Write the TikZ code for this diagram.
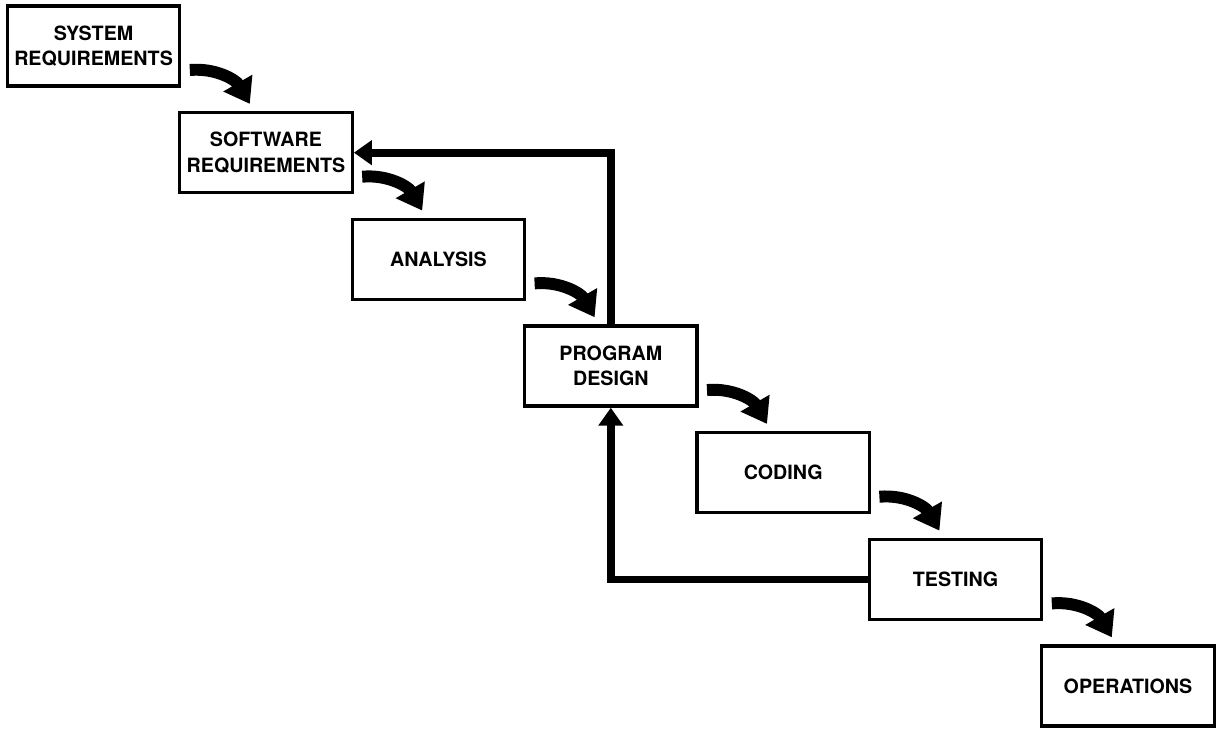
\documentclass[tikz,border=0pt]{standalone}
\usepackage{fontspec}
\setmainfont{TeX Gyre Heros}
\usetikzlibrary{arrows.meta,positioning}

\begin{document}
\begin{tikzpicture}[
    phase/.style={draw, line width=2.4pt, outer sep=0pt, inner xsep=2pt,
        minimum width=4.31cm, minimum height=2cm,
        align=center, font=\bfseries\fontsize{14}{18}\selectfont},
    flow/.style={line width=8.5pt, -{Triangle[length=0.6cm,width=0.8cm]}},
    feedback/.style={line width=5.5pt, -{Triangle[length=0.45cm,width=0.6cm]}}
]
    \useasboundingbox (0,0) rectangle (30.45,-18.2);

    \node[phase] (sys) at (2.34,-1.15) {SYSTEM\\REQUIREMENTS};
    \node[phase, below right=0.667cm and 0cm of sys] (soft) {SOFTWARE\\REQUIREMENTS};
    \node[phase, below right=0.667cm and 0cm of soft] (ana) {ANALYSIS};
    \node[phase, below right=0.667cm and 0cm of ana] (pd) {PROGRAM\\DESIGN};
    \node[phase, below right=0.667cm and 0cm of pd] (cod) {CODING};
    \node[phase, below right=0.667cm and 0cm of cod] (test) {TESTING};
    \node[phase, below right=0.667cm and 0cm of test] (ops) {OPERATIONS};

    \foreach \a/\b in {sys/soft, soft/ana, ana/pd, pd/cod, cod/test, test/ops} {
        \draw[flow] ([shift={(0.25,-0.6)}]\a.east) to[out=5,in=120] ([shift={(1.75,0.22)}]\b.north west);
    }

    \draw[feedback] (pd.north) |- ([xshift=1.2pt]soft.east);
    \draw[feedback] (test.west) -| ([yshift=-1.2pt]pd.south);
\end{tikzpicture}
\end{document}
